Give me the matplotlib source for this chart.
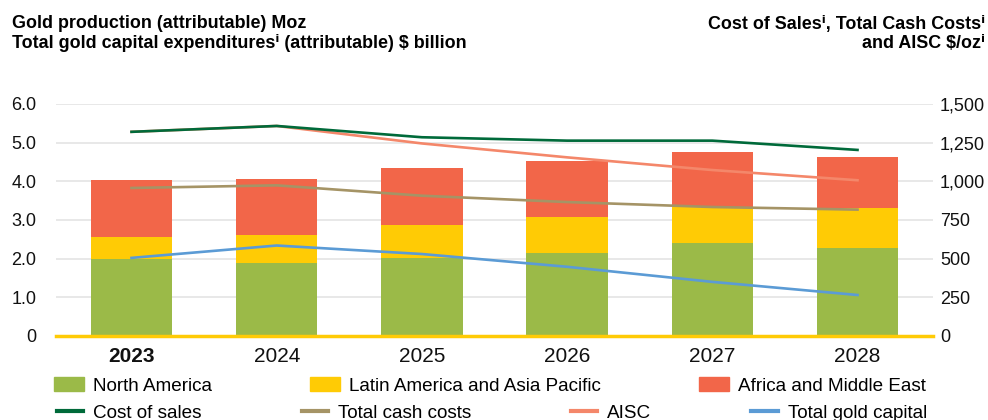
import numpy as np
import matplotlib.pyplot as plt
from matplotlib.patches import Patch
from matplotlib.lines import Line2D

plt.rcParams['font.family'] = ['Liberation Sans', 'DejaVu Sans']

# data
years = ['2023', '2024', '2025', '2026', '2027', '2028']
north_america = [2.00, 1.89, 2.02, 2.15, 2.40, 2.28]
latam_apac = [0.57, 0.72, 0.85, 0.93, 0.93, 1.03]
africa_me = [1.46, 1.45, 1.47, 1.44, 1.43, 1.32]
capex = [2.02, 2.34, 2.12, 1.79, 1.40, 1.06]          # $ billion, left axis
cost_of_sales = [1320, 1358, 1285, 1263, 1263, 1203]  # $/oz, right axis
cash_costs = [957, 974, 907, 866, 834, 817]
aisc = [1320, 1358, 1245, 1155, 1073, 1007]

c_na = '#9bba48'
c_lat = '#ffcb05'
c_af = '#f26649'
c_cos = '#006a3a'
c_tcc = '#a59466'
c_aisc = '#f4876a'
c_cap = '#5b9bd5'

fig = plt.figure(figsize=(9.88, 4.20), dpi=100)
ax = fig.add_axes([56/988, 0.2, (933-56)/988, 0.7524-0.2])
ax2 = ax.twinx()

x = np.arange(len(years))
w = 0.56
b2 = np.array(north_america) + np.array(latam_apac)
ax.bar(x, north_america, w, color=c_na, zorder=2)
ax.bar(x, latam_apac, w, bottom=north_america, color=c_lat, zorder=2)
ax.bar(x, africa_me, w, bottom=b2, color=c_af, zorder=2)

ax.set_xlim(-0.52, 5.52)
ax.set_ylim(0, 6)
ax.set_yticks(np.arange(0, 7, 1))
ax.set_yticklabels(['0', '1.0', '2.0', '3.0', '4.0', '5.0', '6.0'])
ax.yaxis.grid(True, color='#e6e6e6', lw=1.3, zorder=0)
ax.set_axisbelow(True)
ax.axhline(0, color='#ffcb05', lw=2.5, zorder=3, clip_on=False)

ax2.set_ylim(0, 1500)
ax2.set_yticks(np.arange(0, 1501, 250))
ax2.set_yticklabels(['0', '250', '500', '750', '1,000', '1,250', '1,500'])

ax2.plot(x, cash_costs, color=c_tcc, lw=1.9, zorder=4)
ax2.plot(x, aisc, color=c_aisc, lw=1.9, zorder=4)
ax2.plot(x, cost_of_sales, color=c_cos, lw=1.9, zorder=5)
# capex is on the left scale, drawn on ax2 via conversion so it sits above the bars
ax2.plot(x, np.array(capex) * 250, color=c_cap, lw=1.9, zorder=4)

ax.set_xticks(x)
ax.set_xticklabels(years)
ax.get_xticklabels()[0].set_fontweight('bold')

for a in (ax, ax2):
    for s in a.spines.values():
        s.set_visible(False)
ax.tick_params(axis='x', length=0, labelsize=15, pad=8, colors='#111111')
ax.tick_params(axis='y', length=0, labelsize=13, pad=14, colors='#111111')
ax2.tick_params(axis='y', length=0, labelsize=13, pad=5, colors='#111111')

tsize = 12.85
fig.text(12/988, 1-28.5/420, 'Gold production (attributable) Moz', fontsize=tsize,
         fontweight='bold', va='baseline', ha='left')
fig.text(12/988, 1-48/420, 'Total gold capital expenditures\u2071 (attributable) $ billion',
         fontsize=tsize, fontweight='bold', va='baseline', ha='left')
fig.text(985/988, 1-28.5/420, 'Cost of Sales\u2071, Total Cash Costs\u2071', fontsize=tsize,
         fontweight='bold', va='baseline', ha='right')
fig.text(985/988, 1-48/420, 'and AISC $/oz\u2071', fontsize=tsize,
         fontweight='bold', va='baseline', ha='right')

h1 = [Patch(color=c_na, label='North America'),
      Patch(color=c_lat, label='Latin America and Asia Pacific'),
      Patch(color=c_af, label='Africa and Middle East')]
fig.legend(handles=h1, loc='center left', bbox_to_anchor=(54/988, 1-386/420),
           ncol=3, frameon=False, fontsize=13.6, borderpad=0, borderaxespad=0,
           handlelength=1.59, handleheight=0.7, handletextpad=0.47, columnspacing=5.2)

h2 = [Line2D([], [], color=c_cos, lw=3, label='Cost of sales'),
      Line2D([], [], color=c_tcc, lw=3, label='Total cash costs'),
      Line2D([], [], color=c_aisc, lw=3, label='AISC'),
      Line2D([], [], color=c_cap, lw=3, label='Total gold capital')]
fig.legend(handles=h2, loc='center left', bbox_to_anchor=(57/988, 1-413/420),
           ncol=4, frameon=False, fontsize=13.6, borderpad=0, borderaxespad=0,
           handlelength=1.38, handletextpad=0.53, columnspacing=5.3)

fig.savefig('out.png', dpi=100)
